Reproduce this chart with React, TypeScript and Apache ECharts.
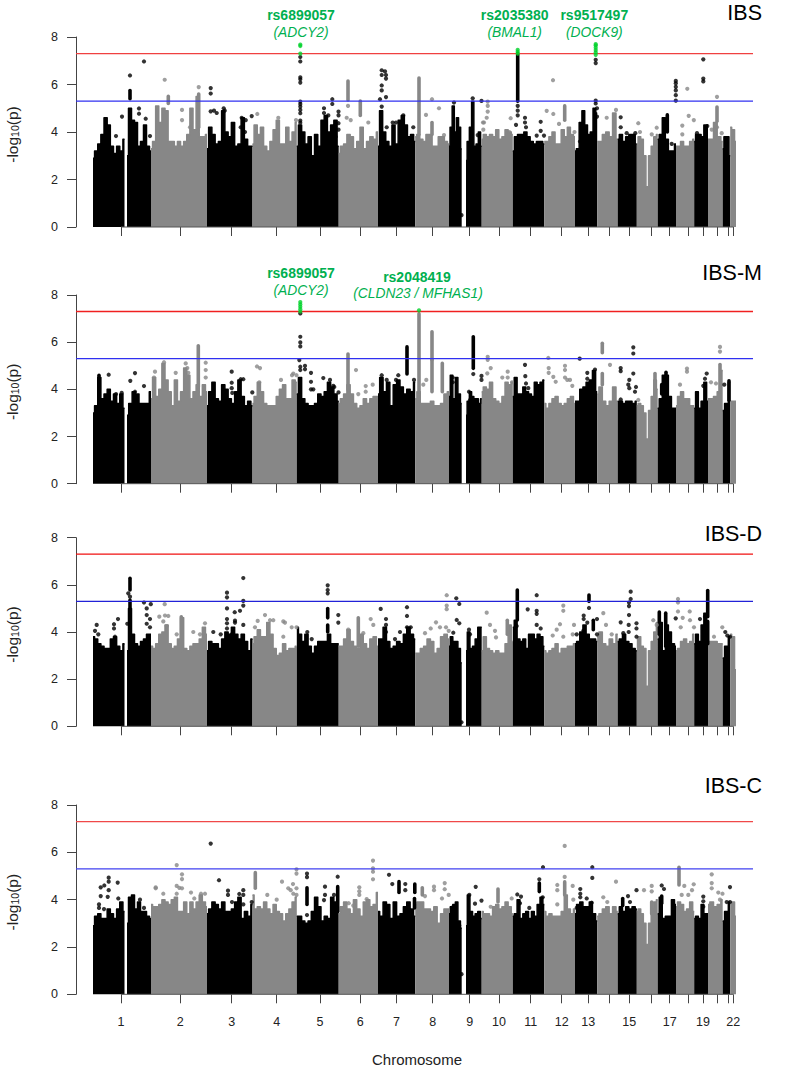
import React, { useEffect, useRef } from "react";
import * as echarts from "echarts";

const FONT = '"Liberation Sans", Arial, sans-serif';
const BLACK = "#000000";
const GRAY = "#878787";
const GREEN = "#00d22a";
const LABEL_GREEN = "#00b050";

// genome position scale: one unit is about 4.5 Mb
const chromSpans = [[93,124.5],[127,151],[151,207],[207,252.5],[252.5,296.8],[296.8,338.7],[338.7,378],[378,415.2],[415.2,449],[449,461.7],[466,481.7],[481.7,512.8],[512.8,544.3],[544.3,575],[575,597.2],[597.2,617.7],[617.7,636.8],[636.8,657.7],[657.7,676],[676,694.2],[694.2,708],[708,722.7],[722.7,730.2],[730.2,736]];
const chromShade = [0,0,1,0,1,0,1,0,1,0,0,1,0,1,0,1,0,1,0,1,0,1,0,1];
const tickPositions = [121,180.3,231.7,276.7,320,360.3,396.5,432.7,469.7,499,530.7,561.7,588.3,609.3,629.3,651.7,669.7,688,703,717,728,733.3];
const tickLabels = ["1","2","3","4","5","6","7","8","9","10","11","12","13","","15","","17","","19","","","22"];
const axisTicksY = [0,2,4,6,8];
const genomeWide = 7.3;
const suggestive = 5.3;

// top of the solid mass of points, per chromosome piece
const ibsTop = [
[2.9,3.2,3.5,3.9,4.6,4.3,3.4,3.1,3.4,3.2,3.7],[3.0,5.0,4.5,4.4,3.4,3.6,4.3,3.4,3.2],
[3.3,3.6,5.1,4.4,5.0,4.9,3.6,3.6,3.4,3.6,3.4,3.6,3.9,5.0,4.1,5.5,3.8,3.8,3.9],
[3.3,4.2,3.9,3.5,3.6,4.9,4.0,3.8,4.4,3.4,3.5,4.6,3.7,3.4,3.4],
[3.5,4.3,3.9,4.2,3.4,3.2,3.6,4.1,4.5,3.5,3.5,4.2,3.6,4.0,4.4],
[3.4,4.3,4.0,3.5,3.8,3.0,3.9,3.4,4.5,4.7,4.0,4.3,4.5,3.4],
[3.1,3.4,3.5,3.9,3.8,3.3,3.6,4.2,3.3,3.6,3.8,3.7,4.0],
[3.4,4.9,4.0,3.6,3.4,4.3,3.5,4.5,4.7,4.3,3.8,3.9,3.6],
[3.8,3.9,3.7,3.6,3.9,3.9,3.4,3.4,3.8,3.8,3.6,3.5],
[3.4,4.2,5.1,4.0,4.6,4.2,3.3],[2.8,3.6,4.2,5.3,3.4,3.5,4.0,3.4],
[3.7,3.9,3.8,3.9,3.8,4.1,3.7,3.8,4.1,4.0,3.9],
[3.2,3.8,3.9,3.9,4.0,3.8,3.6,3.5,3.6,3.6,3.5],
[3.6,3.6,3.8,4.0,3.5,3.5,4.1,3.8,4.2,3.9,3.8],
[3.2,3.3,4.4,4.9,4.3,3.9,4.0,5.0,4.8],
[3.6,3.6,3.9,4.0,3.8,4.8,3.7],
[3.7,3.9,3.6,3.8,3.9,3.9,3.5],
[3.5,3.8,3.7,3.0,1.7,3.0,3.4,3.8,3.9],
[3.7,3.9,4.6,3.7,3.2,3.2,3.5],
[3.4,3.4,3.6,3.4,3.4,3.6,3.7],
[3.6,3.9,3.9,3.8,4.3,4.3],
[3.7,3.7,4.4,3.8,3.6],
[3.3,3.8,3.8,3.0],
[4.2,4.1,3.6],
];
const ibsmTop = [
[3.0,3.3,4.5,3.6,3.8,4.0,3.5,3.8,3.4,3.8,3.2],[2.9,3.4,3.9,3.8,3.4,3.4,3.4,3.9],
[3.6,4.5,3.7,4.0,5.1,4.4,3.9,3.3,4.4,3.5,3.9,4.9,4.6,3.6,3.9,4.2,3.7,4.2,3.9],
[3.3,3.9,4.3,3.6,3.5,4.2,4.0,3.6,3.4,3.9,4.4,3.7,3.3,3.5,3.3],
[3.4,3.7,4.3,3.9,3.4,3.3,3.3,3.3,3.7,4.0,4.2,3.6,3.6,4.4,4.3],
[3.8,4.5,3.6,3.4,3.3,3.3,3.4,3.8,3.7,3.9,4.3,4.1,3.8,3.5],
[3.4,3.6,3.8,4.2,3.8,3.4,3.2,3.3,3.6,3.4,3.6,3.7,3.7],
[3.8,4.5,3.9,4.3,3.3,4.2,4.4,4.1,3.8,4.0,3.9,4.3],
[3.6,3.9,3.4,3.4,3.4,3.5,3.3,3.3,3.4,3.8,3.9],
[3.7,4.6,3.6,4.5,3.8,3.4],[2.9,3.5,3.9,3.7,3.6,3.6,3.4,3.6],
[3.9,4.1,4.0,4.3,3.6,3.5,3.4,3.7,4.3,4.2,4.3],
[3.7,4.5,3.8,3.8,4.1,3.9,3.8,3.7,4.3,4.2,4.3,4.4],
[3.4,3.2,3.4,3.6,3.7,3.4,3.3,3.4,3.6,3.7,3.4],
[3.5,3.5,4.0,4.1,4.3,4.4,4.8,3.9],
[3.8,4.1,3.5,3.3,3.5,4.1,3.5],
[3.5,3.5,3.4,3.5,3.5,3.4,3.5],
[3.3,3.4,3.3,3.0,1.9,3.1,3.7,4.4,4.0],
[3.2,3.6,4.6,4.6,3.7,3.2,3.2],
[3.3,3.7,3.9,3.6,3.6,3.3,3.3],
[3.2,3.9,3.2,3.5,4.3,3.5],
[3.6,3.6,3.7,3.9,4.8],
[3.1,3.4,4.3],
[3.5,3.5,3.5],
];
const ibsdTop = [
[3.8,3.7,3.5,3.4,3.3,3.3,3.7,3.8,3.4,3.2,3.5],[3.2,5.0,3.9,3.5,3.4,3.6,3.7,3.9,3.9],
[3.4,3.3,3.5,3.9,4.0,4.3,3.5,3.3,3.4,3.7,4.6,3.3,3.2,3.4,3.5,3.5,3.7,4.2,3.9],
[3.2,3.6,3.5,3.5,3.3,3.7,4.0,3.9,4.2,3.9,3.7,3.9,3.6,3.2,3.7],
[3.5,3.8,4.1,3.8,3.8,4.4,3.9,3.3,3.0,3.1,3.5,3.2,3.3,3.3,3.4],
[4.2,3.9,3.6,3.9,3.4,3.1,3.4,3.6,3.6,3.6,3.9,3.5,3.5,3.5],
[3.4,3.4,3.7,4.1,3.6,3.4,3.3,3.9,3.5,3.3,3.7,3.8,3.4],
[3.7,3.7,4.2,3.6,3.3,3.4,3.6,3.5,3.9,4.2,3.9,3.7],
[3.1,3.1,3.3,3.4,3.7,3.6,3.1,3.3,3.8,3.9,3.7],
[3.4,3.8,3.6,3.6,3.3,2.7],[3.2,4.0,3.3,3.4,3.7,4.2,4.2],
[3.2,3.8,3.3,3.2,3.1,3.2,3.1,3.1,3.5,4.3,3.6],
[4.2,4.5,3.7,3.6,3.7,3.3,3.9,3.9,3.7,3.9,3.8,3.4],
[3.2,3.1,3.2,3.3,3.5,3.1,3.3,3.3,3.4,3.4,3.5],
[3.5,3.6,4.0,4.3,3.9,3.7,3.7,3.6],
[3.8,4.0,3.5,3.4,3.7,3.5,3.9],
[3.6,3.7,3.9,3.6,3.5,3.3,3.2],
[3.7,3.8,3.4,3.3,1.7,3.2,3.6,4.0,4.4],
[3.7,4.4,3.2,4.3,4.0,3.5,3.4],
[3.2,3.3,3.6,3.7,3.5,3.6,3.9],
[3.5,3.9,3.6,4.3,4.8,4.4],
[3.6,3.6,3.6,3.5,3.5],
[2.9,3.4,3.8],
[3.9,3.8,2.4],
];
const ibscTop = [
[2.9,3.3,3.4,3.2,3.2,3.6,3.4,3.2,3.6,3.9,3.5],[3.0,4.1,4.2,3.6,3.9,3.5,3.5,3.3,3.2],
[3.8,3.7,3.7,3.8,4.0,3.9,3.8,4.0,4.1,3.5,3.5,3.9,3.4,3.9,3.6,3.9,4.2,3.9,3.7],
[3.4,3.6,3.9,3.8,3.6,3.9,3.5,3.5,3.6,3.9,4.1,3.2,3.5,3.3,3.8],
[4.2,3.6,3.7,3.6,3.9,3.6,3.4,3.8,3.5,3.4,3.1,3.4,3.6,3.9,4.1],
[3.3,3.3,3.1,3.0,3.1,3.5,4.1,3.7,3.1,3.3,3.2,4.1,3.9,4.5],
[3.4,3.7,3.9,3.6,3.4,4.0,3.6,3.3,3.9,4.0,3.7,3.8,4.3],
[3.5,3.3,3.9,3.8,3.2,3.9,3.3,3.4,3.7,3.9,3.6,3.3],
[3.8,3.9,3.9,3.6,3.6,3.5,3.7,3.0,3.4,3.6,3.6],
[3.4,3.7,3.8,3.9,3.1,2.8],[2.9,4.2,3.5,3.3,3.4,3.5,3.2],
[3.5,3.4,3.4,3.3,3.7,3.8,3.6,3.7,3.9,3.7,3.4],
[3.3,3.4,4.0,3.2,3.4,3.5,3.2,3.5,3.3,3.8,4.1,3.8],
[3.5,3.3,3.4,3.3,3.3,3.3,3.5,4.2,3.6,3.4,3.6],
[3.4,3.8,3.9,3.7,3.7,3.9,3.4,3.1],
[3.3,3.4,3.6,3.7,3.4,3.7,3.5],
[3.4,3.7,3.5,3.7,3.6,3.7,3.6],
[3.5,3.6,3.4,3.0,2.1,3.0,3.5,3.9,4.0],
[3.4,4.1,3.2,3.3,3.3,4.0,3.8],
[3.7,3.9,3.8,3.5,3.6,3.9,3.5],
[3.2,3.3,3.2,3.8,3.4,3.4],
[3.8,3.9,3.7,3.8,4.0],
[3.1,3.5,3.9],
[3.8,3.9,3.3],
];

// dense vertical runs of points: [position, low, high]
const ibsRuns = [[130,5.4,5.75],[168.3,5.2,5.5],[198.7,4.2,5.6],[348,5.35,6.15],[360.3,4.7,5.3],[419,3.9,6.27],[432,3.9,4.4],[517.7,5.3,7.3],[564.7,4.5,5.1],[667.3,4,4.72],[717,4.45,5.05]];
const ibsmRuns = [[99,3.6,4.6],[198.3,4.1,5.85],[348,4,5.5],[407,4.65,5.8],[419,3.9,7.2],[432,5.25,6.44],[432,3.9,5.25],[442.3,3.9,5.1],[473.3,4.89,6.23],[602.3,5.55,5.95],[602.3,4.2,4.67],[655,3.8,4.67],[666,3.7,4.72],[661.7,3.8,4.2],[720,3.9,5.05],[729,3.54,4.36]];
const ibsdRuns = [[130,5.78,6.28],[130,4.87,5.35],[130,3.9,4.55],[181.3,3.2,4.65],[327.7,4.6,5],[327.7,4,4.3],[358.3,3.4,4.6],[507.3,3.9,4.5],[517.3,4.51,5.78],[589,5.3,5.57],[593.3,4.1,4.5],[665.7,3.4,4.8],[659.3,3.9,4.85],[707.7,4.65,5.76],[707.7,3.5,4.45]];
const ibscRuns = [[255.3,4.48,5.14],[307,3.8,4.5],[337.7,3.5,4.55],[399,4.3,4.76],[414.8,4.3,4.66],[414.5,3.65,4.05],[422.3,4.2,4.5],[498,3.9,4.45],[539.3,4.34,4.7],[564.7,4.2,4.75],[622.7,3.75,4.05],[651.7,3.4,3.9],[661.7,3.85,4.15],[679,4.62,5.37]];

// separate points standing above the mass: [position, -log10(p)]
const ibsPeaks = [[130,6.38],[144,6.97],[139,4.99],[139,4.77],[145.7,4.56],[122,4.65],[150,3.83],[116,3.83],[164.7,6.2],[182,4.93],[182,4.5],[198.7,5.89],[190,4.2],[210.7,5.85],[210.7,5.62],[210.7,4.87],[214,4.9],[216.7,4.8],[223.7,5],[224.7,4.9],[245.7,4.5],[251.7,4.67],[241.7,4.6],[240.7,4.2],[245,4],[257.3,4.76],[278.3,4.6],[296,4.5],[300.3,7.16],[300.3,6.97],[300.3,6.3],[300.3,6.22],[300.3,6.08],[300.3,5.28],[300.3,5.18],[300.3,5.07],[300.3,4.93],[300.3,4.79],[300.3,4.48],[300.3,4.39],[324,5],[324,4.8],[332.3,5.38],[332.3,5.18],[338.5,4.86],[338.5,4.7],[338.5,4.37],[338.5,4.1],[328.3,4.7],[335.7,3.8],[348,5.1],[368.3,4.4],[346.7,4.6],[350.7,4.5],[381.7,6.6],[381.7,6.4],[381.7,5.96],[381.7,5.75],[381.7,5.07],[385,6.55],[386,6.4],[386,6.25],[386,5.47],[380,5.38],[386.7,4.2],[392.7,4.4],[396,4.4],[403.3,4.7],[413.3,4.2],[432,5.38],[439,5],[426,4.72],[444,3.87],[454,5.24],[472.7,5.42],[481.5,5.31],[483,4.4],[477.7,3.87],[483.3,4.1],[461.5,0.5],[487.7,5.28],[487.7,5.1],[487.7,4.86],[486.7,4.6],[484,4.4],[510.7,4.58],[509.3,4],[517.7,5.1],[517.7,4.9],[517.7,4.7],[516,4.3],[525,4.6],[525,4.4],[526,4.2],[540.7,4.43],[540.7,4.05],[536.7,3.85],[544,3.85],[553,6.18],[546.7,4.89],[553.3,4.76],[559,4.34],[574.5,4],[595.7,7.04],[595.7,6.9],[595.7,5.32],[595.7,5.2],[597,5],[597,4.65],[580,3.6],[616,4.93],[606.7,4.6],[620.7,4.62],[620.7,4.2],[626.7,3.95],[635.3,3.95],[638.3,4.37],[640,4],[656.7,4.18],[651.7,3.9],[671.7,3.5],[675.8,6.15],[675.8,6.05],[675.8,5.9],[675.8,5.75],[675.8,5.55],[675.8,5.32],[687.3,5.82],[688.7,4.68],[682.3,4.27],[693.8,4.5],[682.3,3.9],[703.3,7.06],[703.3,6.25],[703.3,6.13],[707.3,4.25],[697,3.95],[717,5.48],[717,4.2],[711.7,4.1],[721.7,3.95]];
const ibsmPeaks = [[108.7,4.62],[116,3.8],[121.7,3.85],[130.3,4.36],[135,4.69],[144,4.14],[135,3.9],[185.7,5.1],[187.3,4.9],[175.7,4.7],[205.7,5.13],[205.7,4.82],[188.3,4.7],[205.7,4.5],[164,5.15],[155,4.75],[154,4.5],[231.7,4.75],[231.7,4.28],[231.7,4.05],[240.7,4.43],[243.3,4.43],[252.3,3.87],[232.3,3.85],[257,4.97],[260,4.9],[293.3,4.67],[296.5,4.6],[259.3,4.3],[281,4.4],[292,4.6],[300.3,7.22],[300.3,6.23],[300.3,5.99],[300.3,5.82],[299.3,5.24],[305,5],[300.3,4.96],[300.3,4.82],[311,4.7],[305,4.85],[311,4.32],[311,4],[313.3,4],[323.3,4.48],[333.3,4.15],[338.5,3.87],[334.3,4.1],[330,4.4],[356,4.82],[365.7,4.14],[372.7,4.2],[365.7,3.9],[358.3,3.8],[381.7,4.6],[386.7,4.4],[398.3,4.6],[396,4.4],[414,4.4],[426.3,4.4],[423.3,4.2],[452.7,4.5],[452.7,4.3],[473.3,4.65],[481.5,4.57],[469,3.9],[470,3.55],[481.5,4.4],[487.7,5.38],[487.7,5.25],[490.7,4.9],[487.3,4.68],[507.7,4.75],[502.3,4.5],[507.7,4.5],[512,4.3],[525,5.04],[525.3,4.56],[526,4.25],[528.3,4.05],[548.3,5.33],[548.7,4.9],[548.7,4.7],[553.3,4.53],[555.7,4.32],[565,5],[565,4.82],[565,4.5],[567.3,4.4],[570,4.4],[572.3,4.15],[579.7,5.3],[587.3,4.7],[587.3,4.45],[595,4.84],[610,5.04],[620.7,4.9],[620.7,4.77],[633.3,5.78],[633.3,5.52],[633.3,4.67],[629.3,4.4],[628.3,4.2],[629.3,4.05],[636,4.1],[635,3.9],[620.7,3.57],[638.3,3.55],[687,4.88],[687,4.75],[680,4.2],[706.7,4.67],[705,4.45],[703.3,4.15],[720,5.8],[720,5.6],[711,4.3],[716,4.25],[724.3,4.2]];
const ibsdPeaks = [[96.7,4.3],[95,4.05],[98.3,3.9],[114,4.33],[114,4.15],[118,4.55],[115,3.8],[128.3,5.64],[130,5.5],[144,5.25],[150.8,5.18],[146.7,5],[146.7,4.72],[150,4.55],[146.7,4.35],[150,4.2],[127.3,4.35],[164.7,5.18],[159.3,4.65],[165,4.7],[168.3,4.68],[163.3,4.45],[166.7,4.25],[176.7,3.9],[200,3.9],[205,4.37],[193.3,4],[243.3,6.29],[227,5.67],[227,5.47],[243.3,5.32],[243.3,5.12],[227,5],[240,4.9],[234.7,4.84],[227,4.55],[227,4.37],[235,4.48],[235,4.4],[243.3,4.3],[231.7,3.9],[213.3,4],[220.7,3.9],[227,4.15],[265,4.72],[257.7,4.47],[270,4.5],[283.3,4.45],[285,4.4],[273.3,4.5],[255,4.2],[291.7,4.2],[296.5,4.2],[283.3,3.8],[327.7,5.98],[327.7,5.78],[327.7,5.64],[338.3,4.72],[338.3,4.4],[307.3,4],[311.7,3.7],[321.7,3.3],[348.3,4.1],[370.7,4.55],[373.3,4.3],[363.3,3.95],[380.7,4.98],[386,4.55],[386,4.3],[386,4],[407,5.05],[407,4.68],[407,4.2],[400,4],[410.7,4.2],[395,3.7],[446.7,5.56],[446.7,5.12],[446.7,4.97],[436,4.41],[430.7,4.15],[440,4.2],[425,3.95],[446,4.2],[448.7,4.05],[456.3,5.43],[459.3,5.19],[456.7,4.51],[459.3,4.37],[453.3,3.97],[461.5,0.17],[469,4.1],[470,3.9],[486.7,4.82],[490,4.3],[495,4.05],[496,3.77],[527.7,4.96],[536.7,5.56],[536.7,4.9],[536.7,4.77],[536.7,4.3],[540.7,4.15],[516.7,4.25],[563.3,5.12],[563.3,4.9],[560,4.33],[556.7,4.1],[552.7,3.85],[563.3,3.8],[572.7,3.9],[574,4.3],[589,5.02],[583.7,4.7],[583.7,4.55],[597,4.55],[587.3,4.4],[583.3,4.05],[576.7,3.9],[597,3.9],[603.3,4.8],[606,4.3],[611.7,3.9],[630.7,5.71],[630.7,5.4],[629,5.25],[629,5.1],[629,4.72],[620.7,4.41],[636.5,4.37],[628.7,4.3],[636.5,4.15],[636.5,3.8],[623.3,3.95],[628.7,4],[656.7,4.3],[653.3,4.5],[678,5.4],[678,5.25],[678,4.87],[689.7,4.87],[675.7,4.58],[682.7,4.6],[690,4.5],[680.7,4.2],[694,4.2],[700,4.55],[705,4.65],[722.3,4.2],[714,3.8],[725.3,4],[727.3,3.85],[730,3.8]];
const ibscPeaks = [[108.7,4.93],[108.7,4.76],[108.7,4.4],[104.3,4.6],[100.7,4.52],[117.7,4.72],[100.7,4.15],[99,3.65],[99,3.8],[107.7,4.12],[104,3.6],[118.3,4.05],[140,4],[144,3.65],[176.7,5.46],[182,5.07],[182,4.87],[176.7,4.58],[179.3,4.5],[182,4.48],[176.7,4.25],[155.7,4.52],[155.7,4.48],[163.3,4.25],[191,4.3],[201,4.25],[205,4.25],[194.3,4.05],[210.7,6.37],[219,4.82],[228,4.38],[243.3,4.4],[239.3,4.24],[228,4.2],[243.3,4.2],[243.3,3.8],[232,3.9],[251.7,3.9],[282,4.76],[293,4.66],[288.3,4.48],[290.7,4.4],[293.3,4.25],[267.3,4.2],[276.7,4],[296.5,5.28],[296.5,5.1],[296.5,4.48],[296.5,4.2],[307,5.1],[307,4.95],[307,3.35],[337.7,4.97],[325,4.55],[325,4.2],[324,3.98],[334,4.2],[373,5.65],[373,5.32],[373,5.18],[373,4.86],[359.3,4.52],[359.3,4.35],[359.3,4.2],[366.7,4.02],[353.3,3.75],[348.7,3.85],[389,5.05],[392.3,4.66],[405.3,4.66],[405.3,4.4],[434,4.55],[434,4.4],[444.7,4.7],[444.7,4.44],[442,4.05],[448.7,4.2],[425,4.15],[453.3,3.7],[461.5,0.85],[459.3,2.9],[475.7,4.54],[469.3,4.2],[475,3.83],[481.5,3.96],[490.7,3.7],[511.7,4.05],[543,5.37],[539.3,4.86],[542.7,4.1],[517.3,4.22],[521,4.13],[520,3.85],[529.3,3.65],[564.7,6.27],[564.7,4.96],[557.3,4.62],[557.3,4.4],[557.3,3.8],[572.7,4.58],[573.3,4],[592.3,5.37],[592.3,4.92],[580.3,4.45],[580.3,4.25],[580.3,4.1],[586.7,4.05],[591.7,3.87],[576.7,3.65],[616,4.76],[603.3,4.1],[607.3,3.9],[636.5,4.4],[628,4.15],[630,3.9],[620.7,3.15],[644,4.4],[651.7,4.58],[651.7,4.35],[661.7,4.6],[664,4.45],[684.3,4.58],[693.7,4.65],[692,4.4],[688.3,4.2],[681.7,4.2],[703.3,4.13],[703.3,3.93],[703.3,3.7],[711.7,5.07],[711.7,4.7],[711.7,4.48],[718.3,4.3],[722.5,4.25],[720,4],[726.7,3.9],[730,3.9],[730,4.53]];

// the highlighted SNPs
const ibsHits = [[300.3,7.68],[300.3,7.62],[300.3,7.3],[517.7,7.3],[517.7,7.38],[517.7,7.46],[595.7,7.25],[595.7,7.35],[595.7,7.45],[595.7,7.55],[595.7,7.65],[595.7,7.7]];
const ibsmHits = [[300.3,7.3],[300.3,7.4],[300.3,7.5],[300.3,7.6],[300.3,7.7],[419,7.35]];
const ibsdHits: number[][] = [];
const ibscHits: number[][] = [];

const panelNames = ["IBS","IBS-M","IBS-D","IBS-C"];
const panelTops = [37,295,537.7,805];
const panelBottoms = [227,483.7,726.3,994.3];
const panelTitleTops = [2,262,523,775];
const blueColors = ["#3030f0","#3030f0","#2222d8","#4040f0"];
const redColors = ["#f04040","#f02020","#f01010","#f04848"];
const tops = [ibsTop,ibsmTop,ibsdTop,ibscTop];
const runs = [ibsRuns,ibsmRuns,ibsdRuns,ibscRuns];
const peaks = [ibsPeaks,ibsmPeaks,ibsdPeaks,ibscPeaks];
const hits = [ibsHits,ibsmHits,ibsdHits,ibscHits];

const snpLabels = [
  { text: "rs6899057", x: 301, y: 15, bold: true },
  { text: "(ADCY2)", x: 301, y: 32, bold: false },
  { text: "rs2035380", x: 514.7, y: 15, bold: true },
  { text: "(BMAL1)", x: 514.7, y: 32, bold: false },
  { text: "rs9517497", x: 594.3, y: 15, bold: true },
  { text: "(DOCK9)", x: 594.3, y: 32, bold: false },
  { text: "rs6899057", x: 301, y: 273, bold: true },
  { text: "(ADCY2)", x: 301, y: 290, bold: false },
  { text: "rs2048419", x: 417, y: 277, bold: true },
  { text: "(CLDN23 / MFHAS1)", x: 418, y: 293.5, bold: false },
];

function shadeAt(x: number) {
  for (let i = 0; i < chromSpans.length; i++) {
    if (x <= chromSpans[i][1]) return chromShade[i] ? GRAY : BLACK;
  }
  return GRAY;
}

function buildOption() {
  const grid: any[] = [], xAxis: any[] = [], yAxis: any[] = [], series: any[] = [], title: any[] = [];
  panelNames.forEach((name, p) => {
    grid.push({ left: 76, width: 677, top: panelTops[p], height: panelBottoms[p] - panelTops[p], outerBoundsMode: "none" });
    title.push({
      text: name, right: 28, top: panelTitleTops[p], padding: 0,
      textStyle: { fontFamily: FONT, fontSize: 21.5, fontWeight: "normal", color: "#000" },
    });
    const last = p === panelNames.length - 1;
    xAxis.push({
      gridIndex: p, type: "value", min: 76, max: 753,
      name: last ? "Chromosome" : "", nameLocation: "middle", nameGap: 58,
      nameTextStyle: { fontFamily: FONT, fontSize: 15, color: "#222", padding: [0, 0, 0, 5] },
      axisLine: { show: false },
      splitLine: { show: false },
      axisTick: { show: true, length: 9, customValues: tickPositions, lineStyle: { color: "#444", width: 1 } },
      axisLabel: {
        show: last, margin: 21, customValues: tickPositions, fontFamily: FONT, fontSize: 12.5, color: "#222",
        formatter: (v: number) => tickLabels[tickPositions.indexOf(v)] ?? "",
      },
    });
    yAxis.push({
      gridIndex: p, type: "value", min: 0, max: 8, interval: 2,
      name: "-log{sub|10}(p)", nameLocation: "middle", nameRotate: 90, nameGap: 56,
      nameTextStyle: {
        fontFamily: FONT, fontSize: 15.5, color: "#222", padding: [0, 5, 0, 0],
        rich: { sub: { fontFamily: FONT, fontSize: 10.5, color: "#222", verticalAlign: "bottom", padding: [4, 0, 0, 0] } },
      },
      splitLine: { show: false },
      axisLine: { show: true, lineStyle: { color: "#444", width: 1 } },
      axisTick: { show: true, length: 9, lineStyle: { color: "#444", width: 1 } },
      axisLabel: { margin: 18, fontFamily: FONT, fontSize: 12.5, color: "#222", customValues: axisTicksY },
    });

    tops[p].forEach((vals, i) => {
      const [a, b] = chromSpans[i];
      const color = chromShade[i] ? GRAY : BLACK;
      series.push({
        type: "line", xAxisIndex: p, yAxisIndex: p, z: 2, silent: true, symbol: "none", step: "middle",
        data: vals.map((v, k) => [a + ((b - a) * k) / (vals.length - 1), v]),
        lineStyle: { color, width: 1.5, join: "round" }, itemStyle: { color },
        areaStyle: { color, opacity: 1 },
      });
    });

    series.push({
      type: "line", xAxisIndex: p, yAxisIndex: p, z: 3, silent: true, symbol: "none", clip: false,
      data: [[tickPositions[0], 0], [tickPositions[tickPositions.length - 1], 0]],
      lineStyle: { color: "#555", width: 1 },
    });

    series.push({
      type: "custom", xAxisIndex: p, yAxisIndex: p, z: 3, silent: true, clip: false,
      data: runs[p],
      encode: { x: 0, y: [1, 2] },
      renderItem: (_: any, api: any) => {
        const x = api.value(0);
        const a = api.coord([x, api.value(1)]);
        const b = api.coord([x, api.value(2)]);
        return {
          type: "line",
          shape: { x1: a[0], y1: a[1], x2: b[0], y2: b[1] },
          style: { stroke: shadeAt(x), lineWidth: 3.6, lineCap: "round" },
        };
      },
    });

    series.push({
      type: "scatter", xAxisIndex: p, yAxisIndex: p, z: 3, silent: true, symbolSize: 4.2,
      data: peaks[p],
      itemStyle: { color: (d: any) => shadeAt(d.value[0]) },
    });

    series.push({
      type: "line", xAxisIndex: p, yAxisIndex: p, z: 4, silent: true, symbol: "none",
      data: [[76, genomeWide], [753, genomeWide]], lineStyle: { color: redColors[p], width: 1.3 },
    });
    series.push({
      type: "line", xAxisIndex: p, yAxisIndex: p, z: 4, silent: true, symbol: "none",
      data: [[76, suggestive], [753, suggestive]], lineStyle: { color: blueColors[p], width: 1.3 },
    });

    if (hits[p].length) {
      series.push({
        type: "scatter", xAxisIndex: p, yAxisIndex: p, z: 5, silent: true, symbolSize: 4.2,
        data: hits[p], itemStyle: { color: GREEN },
      });
    }
  });

  const graphic = snpLabels.map((l) => ({
    type: "text", x: l.x, y: l.y, silent: true, z: 10,
    style: {
      text: l.text, fill: LABEL_GREEN, textAlign: "center", textVerticalAlign: "middle",
      align: "center", verticalAlign: "middle",
      font: `${l.bold ? "bold" : "italic"} ${l.bold ? 14 : 13.8}px ${FONT}`,
    },
  }));

  return { animation: false, backgroundColor: "#fff", title, grid, xAxis, yAxis, series, graphic };
}

export default function App() {
  const ref = useRef<HTMLDivElement>(null);
  useEffect(() => {
    if (!ref.current) return;
    document.body.style.margin = "0";
    const chart = echarts.init(ref.current, undefined, { renderer: "svg" });
    chart.setOption(buildOption() as any);
    return () => chart.dispose();
  }, []);
  return <div ref={ref} style={{ width: 790, height: 1069 }} />;
}
